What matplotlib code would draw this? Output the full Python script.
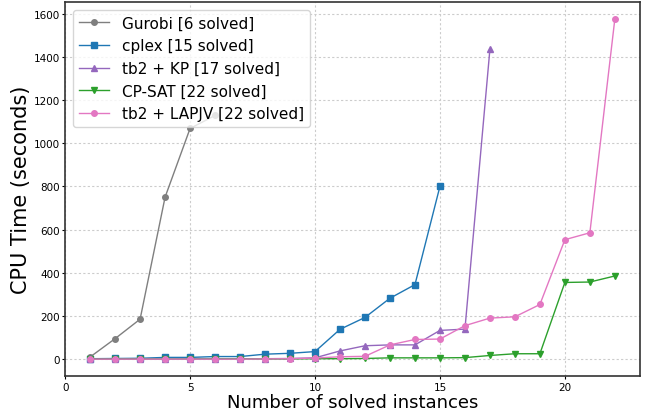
import matplotlib
matplotlib.use("Agg")
import matplotlib.pyplot as plt

# CPU time per solved instance (sorted)
gurobi = [10, 95, 185, 750, 1068, 1128]
cplex = [2, 3, 4, 8, 8, 12, 12, 23, 27, 35, 138, 193, 282, 345, 800]
tb2_kp = [0, 0, 0, 0, 1, 1, 1, 2, 3, 6, 38, 62, 66, 66, 133, 139, 1435]
cpsat = [0, 0, 0, 0, 0, 1, 1, 1, 1, 2, 2, 3, 6, 6, 6, 7, 17, 25, 25, 355, 357, 385]
tb2_lapjv = [0, 0, 0, 0, 0, 0, 0, 1, 2, 5, 11, 13, 66, 91, 93, 155, 190, 196, 253, 553, 585, 1575]

series = [
    ("Gurobi [6 solved]", gurobi, "tab:gray", "o"),
    ("cplex [15 solved]", cplex, "tab:blue", "s"),
    ("tb2 + KP [17 solved]", tb2_kp, "tab:purple", "^"),
    ("CP-SAT [22 solved]", cpsat, "tab:green", "v"),
    ("tb2 + LAPJV [22 solved]", tb2_lapjv, "tab:pink", "o"),
]

fig = plt.figure(figsize=(6.45, 4.14), dpi=100)
ax = fig.add_axes([0.101, 0.089, 0.891, 0.904])

for label, vals, col, mk in series:
    xs = list(range(1, len(vals) + 1))
    ax.plot(xs, vals, color=col, marker=mk, markersize=4, linewidth=1, label=label)

ax.set_xlim(0, 23)
ax.grid(True, linestyle=(0, (2, 2)), color="#cccccc", linewidth=0.8)
ax.tick_params(labelsize=7.5, length=2, pad=2)
for sp in ax.spines.values():
    sp.set_color("#333333")
    sp.set_linewidth(1.2)
ax.set_xlabel("Number of solved instances", fontsize=13, labelpad=1)
ax.set_ylabel("CPU Time (seconds)", fontsize=15, labelpad=2)
ax.legend(loc="upper left", fontsize=11, handlelength=2, labelspacing=0.5)

fig.savefig("out.png", dpi=100)
